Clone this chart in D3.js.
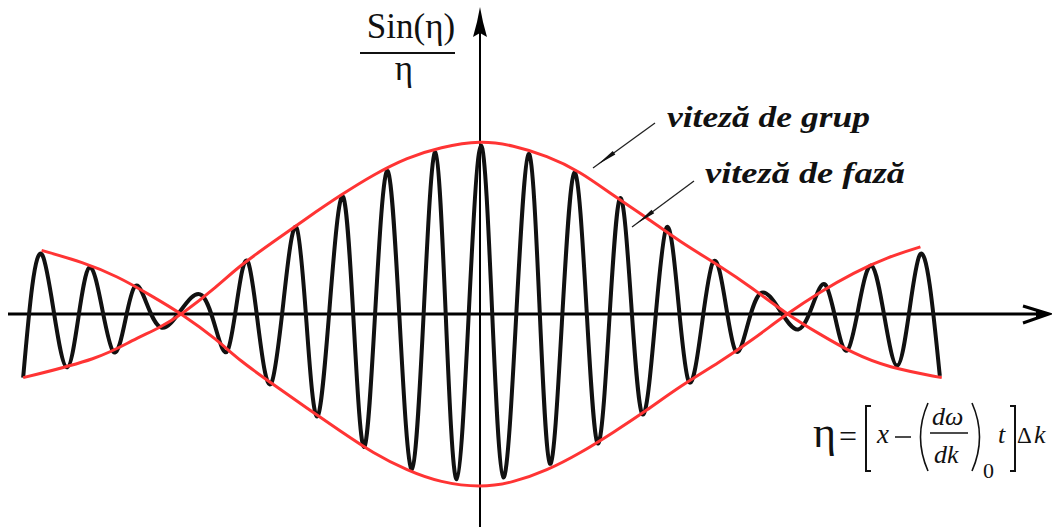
<!DOCTYPE html>
<html>
<head>
<meta charset="utf-8">
<script src="https://cdn.jsdelivr.net/npm/d3@7/dist/d3.min.js"></script>
<style>
  html, body { margin: 0; padding: 0; background: #fff; }
  svg { display: block; }
  text { font-family: "Liberation Serif", "Times New Roman", serif; fill: #111; }
</style>
</head>
<body>
<svg id="chart" width="1052" height="527"></svg>
<script>
// Wave packet: carrier extrema of sin(eta)/eta-type packet (eta, value)
const waveEta = [-4.72, -4.52, -4.27, -4.04, -3.79, -3.57, -3.29, -2.88, -2.61, -2.40,
                 -2.16, -1.90, -1.68, -1.42, -1.20, -0.96, -0.71, -0.47, -0.25, 0.00,
                  0.23,  0.49,  0.71,  0.96,  1.20,  1.43,  1.66,  1.91,  2.14, 2.39,
                  2.62,  2.88,  3.27,  3.55,  3.78,  4.03,  4.29,  4.52,  4.73];
const waveVal = [-0.37,  0.34, -0.31,  0.27, -0.22,  0.16, -0.08,  0.11, -0.21, 0.30,
                 -0.40,  0.50, -0.59,  0.68, -0.77,  0.83, -0.90,  0.94, -0.96, 0.98,
                 -0.95,  0.93, -0.87,  0.82, -0.75,  0.67, -0.58,  0.50, -0.39, 0.30,
                 -0.21,  0.12, -0.09,  0.17, -0.21,  0.28, -0.30,  0.34, -0.36];

// Group envelope, branch through the central maximum
const envAEta = [-4.72, -3.93, -3.59, -3.31, -3.08, -2.72, -2.49, -2.14, -1.79, -1.45,
                 -1.11, -0.76, -0.42,  0.00,  0.33,  0.68,  1.02,  1.36,  1.71, 2.05,
                  2.46,  2.80,  3.15,  3.50,  3.84,  4.19,  4.75];
const envAVal = [-0.37, -0.26, -0.15, -0.08,  0.00,  0.16,  0.28,  0.42,  0.56, 0.69,
                  0.81,  0.91,  0.97,  1.01,  0.98,  0.92,  0.83,  0.69,  0.56, 0.42,
                  0.28,  0.15,  0.00, -0.12, -0.23, -0.31, -0.37];

// Group envelope, mirrored branch through the central minimum
const envBEta = [-4.53, -4.10, -3.75, -3.41, -3.08, -2.72, -2.49, -2.14, -1.79, -1.45,
                 -1.11, -0.76, -0.42,  0.00,  0.33,  0.68,  1.02,  1.36,  1.71, 2.05,
                  2.46,  2.80,  3.15,  3.50,  3.84,  4.19,  4.53];
const envBVal = [ 0.37,  0.30,  0.22,  0.11,  0.00, -0.15, -0.27, -0.41, -0.55, -0.68,
                 -0.81, -0.91, -0.98, -1.01, -0.98, -0.91, -0.81, -0.69, -0.56, -0.42,
                 -0.28, -0.15,  0.00,  0.13,  0.24,  0.33,  0.39];

const labels = {
  group: "viteză de grup",
  phase: "viteză de fază",
  yNum: "Sin(η)",
  yDen: "η"
};

const svg = d3.select("#chart");
const x = d3.scaleLinear().domain([-1, 1]).range([481 - 97, 481 + 97]);
const y = d3.scaleLinear().domain([-1, 1]).range([314 + 172, 314 - 172]);

const zip = (a, b) => a.map((d, i) => [d, b[i]]);
const waveLine = d3.line().x(d => x(d[0])).y(d => y(d[1])).curve(d3.curveNatural);
const envLine = d3.line().x(d => x(d[0])).y(d => y(d[1])).curve(d3.curveBasis);

// Axes
const x0 = x(0) - 1, y0 = y(0);
svg.append("line").attr("x1", 8).attr("x2", 1046).attr("y1", y0).attr("y2", y0)
  .attr("stroke", "#000").attr("stroke-width", 3);
svg.append("path")
  .attr("d", `M1023,${y0 - 8} L1049,${y0} L1023,${y0 + 9}`)
  .attr("fill", "none").attr("stroke", "#000").attr("stroke-width", 3);
svg.append("path")
  .attr("d", `M1036,${y0 - 5} L1050,${y0} L1036,${y0 + 5} Z`).attr("fill", "#000");

svg.append("line").attr("x1", x0).attr("x2", x0).attr("y1", 30).attr("y2", 527)
  .attr("stroke", "#000").attr("stroke-width", 2);
svg.append("path")
  .attr("d", `M${x0},7 L${x0 + 3},22 L${x0 + 7},37 L${x0},33 L${x0 - 7},37 L${x0 - 3},22 Z`)
  .attr("fill", "#000");

// Carrier wave
svg.append("path").datum(zip(waveEta, waveVal)).attr("d", waveLine)
  .attr("fill", "none").attr("stroke", "#111").attr("stroke-width", 4)
  .attr("stroke-linejoin", "round");

// Envelopes
[[envAEta, envAVal], [envBEta, envBVal]].forEach(([e, v]) => {
  svg.append("path").datum(zip(e, v)).attr("d", envLine)
    .attr("fill", "none").attr("stroke", "#ff3434").attr("stroke-width", 3);
});

// Y label as a fraction
svg.append("text").attr("x", 411).attr("y", 38).attr("text-anchor", "middle")
  .attr("font-size", 35).text(labels.yNum);
svg.append("line").attr("x1", 360).attr("x2", 455).attr("y1", 53).attr("y2", 53)
  .attr("stroke", "#111").attr("stroke-width", 2);
svg.append("text").attr("x", 404).attr("y", 80).attr("text-anchor", "middle")
  .attr("font-size", 35).text(labels.yDen);

// Annotations
function annot(txt, tx, ty, len, from, to) {
  svg.append("text").attr("x", tx).attr("y", ty)
    .attr("font-size", 30).attr("font-weight", "bold").attr("font-style", "italic")
    .attr("textLength", len).attr("lengthAdjust", "spacingAndGlyphs").text(txt);
  svg.append("line").attr("x1", from[0]).attr("y1", from[1]).attr("x2", to[0]).attr("y2", to[1])
    .attr("stroke", "#222").attr("stroke-width", 1.3);
  const dx = from[0] - to[0], dy = from[1] - to[1], L = Math.hypot(dx, dy);
  const ux = dx / L, uy = dy / L, px = -uy, py = ux;
  const bx = to[0] + ux * 26, by = to[1] + uy * 26;
  svg.append("path")
    .attr("d", `M${to[0] + ux * 6},${to[1] + uy * 6} L${bx + px * 2.2},${by + py * 2.2} L${bx - px * 2.2},${by - py * 2.2} Z`)
    .attr("fill", "#111");
}
annot(labels.group, 667, 127, 203, [655, 123], [593, 168]);
annot(labels.phase, 705, 183, 200, [694, 181], [632, 227]);

// Argument definition of eta
const g = svg.append("g");
const it = (t, xx, yy, fs) => g.append("text").attr("x", xx).attr("y", yy)
  .attr("font-size", fs).attr("font-style", "italic").text(t);
g.append("text").attr("x", 813).attr("y", 447).attr("font-size", 44).text("η");
g.append("text").attr("x", 839).attr("y", 447).attr("font-size", 32).text("=");
g.append("path").attr("d", "M871,406 L866,406 L866,471 L871,471")
  .attr("fill", "none").attr("stroke", "#111").attr("stroke-width", 2);
it("x", 877, 443, 27);
g.append("line").attr("x1", 895).attr("x2", 911).attr("y1", 437).attr("y2", 437)
  .attr("stroke", "#111").attr("stroke-width", 1.5);
g.append("path").attr("d", "M928,403 Q913,437 928,471")
  .attr("fill", "none").attr("stroke", "#111").attr("stroke-width", 1.6);
it("dω", 932, 425, 26);
g.append("line").attr("x1", 930).attr("x2", 968).attr("y1", 433).attr("y2", 433)
  .attr("stroke", "#111").attr("stroke-width", 1.5);
it("dk", 934, 463, 26);
g.append("path").attr("d", "M972,403 Q987,437 972,471")
  .attr("fill", "none").attr("stroke", "#111").attr("stroke-width", 1.6);
g.append("text").attr("x", 983).attr("y", 478).attr("font-size", 22).text("0");
it("t", 998, 443, 26);
g.append("path").attr("d", "M1010,406 L1015,406 L1015,471 L1010,471")
  .attr("fill", "none").attr("stroke", "#111").attr("stroke-width", 2);
g.append("text").attr("x", 1017).attr("y", 443).attr("font-size", 23).text("Δ");
it("k", 1034, 443, 26);
</script>
</body>
</html>
